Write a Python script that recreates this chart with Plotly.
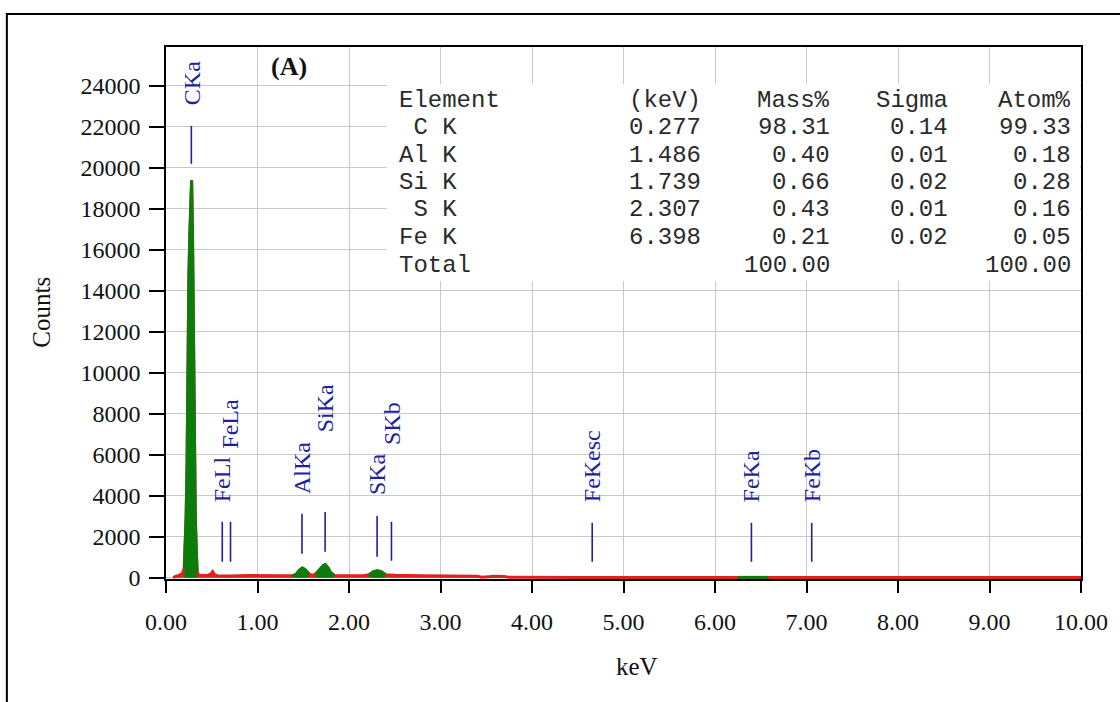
import plotly.graph_objects as go

# ---------------- data ----------------
spec_keV = [0.08, 0.10, 0.14, 0.18, 0.20, 0.21, 0.22, 0.23, 0.24, 0.25, 0.26, 0.27, 0.28,
            0.29, 0.30, 0.31, 0.32, 0.33, 0.34, 0.36, 0.45, 0.49, 0.51, 0.53, 0.56, 0.70,
            0.90, 1.20, 1.38, 1.42, 1.46, 1.49, 1.52, 1.56, 1.60, 1.64, 1.68, 1.72, 1.74,
            1.77, 1.80, 1.84, 1.95, 2.15, 2.22, 2.27, 2.31, 2.35, 2.40, 2.50, 2.80, 3.10,
            3.40, 3.45, 3.60, 3.70, 3.75, 4.50, 6.25, 6.40, 6.58, 8.00, 10.00]
spec_counts = [0, 60, 120, 200, 500, 1500, 3000, 5500, 11500, 14700, 16700, 18800, 19400,
               16700, 11500, 5500, 3000, 1500, 300, 120, 110, 180, 300, 150, 100, 90,
               110, 100, 100, 150, 380, 480, 400, 200, 110, 200, 400, 600, 640,
               480, 250, 110, 100, 100, 150, 300, 340, 300, 150, 120, 100, 90,
               80, 30, 80, 60, 20, 15, 20, 25, 20, 15, 10]
roi_ranges = [(0.20, 0.34), (1.38, 1.58), (1.62, 1.85), (2.21, 2.41), (6.25, 6.58)]

peak_names = ["CKa", "FeLl", "FeLa", "AlKa", "SiKa", "SKa", "SKb", "FeKesc", "FeKa", "FeKb"]
peak_keV = [0.277, 0.615, 0.705, 1.486, 1.739, 2.307, 2.464, 4.658, 6.398, 7.057]
marker_top = [22050, 2730, 2730, 3120, 3210, 3020, 2730, 2680, 2680, 2680]
marker_bottom = [20200, 780, 780, 1170, 1270, 1020, 830, 780, 780, 780]
label_base = [22980, 3600, 6180, 3990, 7010, 3940, 6380, 3600, 3600, 3600]

x_ticks = [0, 1, 2, 3, 4, 5, 6, 7, 8, 9, 10]
x_ticktext = ["0.00", "1.00", "2.00", "3.00", "4.00", "5.00", "6.00", "7.00", "8.00", "9.00", "10.00"]
y_ticks = [0, 2000, 4000, 6000, 8000, 10000, 12000, 14000, 16000, 18000, 20000, 22000, 24000]
y_ticktext = ["0", "2000", "4000", "6000", "8000", "10000", "12000", "14000", "16000",
              "18000", "20000", "22000", "24000"]

tbl_element = ["Element", "\u00a0C K", "Al K", "Si K", "\u00a0S K", "Fe K", "Total"]
tbl_kev = ["(keV)", "0.277", "1.486", "1.739", "2.307", "6.398", ""]
tbl_mass = ["Mass%", "98.31", "0.40", "0.66", "0.43", "0.21", "100.00"]
tbl_sigma = ["Sigma", "0.14", "0.01", "0.02", "0.01", "0.02", ""]
tbl_atom = ["Atom%", "99.33", "0.18", "0.28", "0.16", "0.05", "100.00"]

# ---------------- styling / geometry ----------------
W, H = 1120, 702
L, R, T, B = 166, 34, 47, 123
PW, PH = W - L - R, H - T - B
RED = "#e3201c"
GREEN = "#0c7c0c"
BLUE = "#1f1fa0"
SERIF = "Liberation Serif, Times New Roman, serif"
MONO = "Liberation Mono, Courier New, monospace"


def px(xp):
    return (xp - L) / PW


def py(yp):
    return (H - B - yp) / PH


fig = go.Figure()

# background spectrum (red)
fig.add_trace(go.Scatter(x=spec_keV, y=spec_counts, mode="lines", fill="tozeroy",
                         line=dict(color=RED, width=3), fillcolor=RED,
                         hoverinfo="skip", showlegend=False))

# ROI (green)
for lo, hi in roi_ranges:
    xs = [e for e in spec_keV if lo <= e <= hi]
    ys = [c for e, c in zip(spec_keV, spec_counts) if lo <= e <= hi]
    fig.add_trace(go.Scatter(x=xs, y=ys, mode="lines", fill="tozeroy",
                             line=dict(color=GREEN, width=3), fillcolor=GREEN,
                             hoverinfo="skip", showlegend=False))

shapes = []
annotations = []

# peak markers + labels
for name, e, t, b, lb in zip(peak_names, peak_keV, marker_top, marker_bottom, label_base):
    shapes.append(dict(type="line", xref="x", yref="y", x0=e, x1=e, y0=b, y1=t,
                       line=dict(color=BLUE, width=1.6)))
    annotations.append(dict(x=e, y=lb, xref="x", yref="y", text=name, textangle=-90,
                            showarrow=False, xanchor="center", yanchor="bottom",
                            font=dict(family=SERIF, size=24, color=BLUE)))

# table white background
shapes.append(dict(type="rect", xref="paper", yref="paper", x0=px(388), x1=px(1085),
                   y0=py(281), y1=py(84), fillcolor="white", line=dict(width=0), layer="above"))

# outer frame
shapes.append(dict(type="rect", xref="paper", yref="paper", x0=px(6), x1=px(1130),
                   y0=py(712), y1=py(14), line=dict(color="black", width=2),
                   fillcolor="rgba(0,0,0,0)"))

# table text
row_y = [100 + 27.5 * i for i in range(7)]
cols = [(tbl_element, 398, "left"), (tbl_kev, 706, "right"), (tbl_mass, 836, "right"),
        (tbl_sigma, 954, "right"), (tbl_atom, 1078, "right")]
for col, xpos, anchor in cols:
    for txt, yy in zip(col, row_y):
        if not txt:
            continue
        annotations.append(dict(x=px(xpos), y=py(yy), xref="paper", yref="paper", text=txt,
                                showarrow=False, xanchor=anchor, yanchor="middle",
                                font=dict(family=MONO, size=24, color="#2a2a2a")))

# (A)
annotations.append(dict(x=px(290), y=py(66), xref="paper", yref="paper", text="<b>(A)</b>",
                        showarrow=False, xanchor="center", yanchor="middle",
                        font=dict(family=SERIF, size=26, color="#111111")))

# axis titles
annotations.append(dict(x=px(640), y=py(667), xref="paper", yref="paper", text="keV",
                        showarrow=False, xanchor="center", yanchor="middle",
                        font=dict(family=SERIF, size=25, color="#111111")))
annotations.append(dict(x=px(40), y=py(312), xref="paper", yref="paper", text="Counts",
                        textangle=-90, showarrow=False, xanchor="center", yanchor="middle",
                        font=dict(family=SERIF, size=25, color="#111111")))

fig.update_layout(
    width=W, height=H, autosize=False,
    margin=dict(l=L, r=R, t=T, b=B, pad=0),
    paper_bgcolor="white", plot_bgcolor="white",
    shapes=shapes, annotations=annotations,
    xaxis=dict(range=[0, 10], tickmode="array", tickvals=x_ticks, ticktext=x_ticktext,
               showgrid=True, gridcolor="#c8c8c8", gridwidth=1, zeroline=False,
               showline=True, linecolor="black", linewidth=1.5, mirror=True,
               ticks="outside", ticklen=12, tickwidth=1.5, tickcolor="black",
               ticklabelstandoff=8,
               tickfont=dict(family=SERIF, size=24, color="#111111")),
    yaxis=dict(range=[-60, 25900], tickmode="array", tickvals=y_ticks, ticktext=y_ticktext,
               showgrid=True, gridcolor="#c8c8c8", gridwidth=1, zeroline=False,
               showline=True, linecolor="black", linewidth=1.5, mirror=True,
               ticks="outside", ticklen=15, tickwidth=1.5, tickcolor="black",
               ticklabelstandoff=4,
               tickfont=dict(family=SERIF, size=24, color="#111111")),
)

fig.write_html("out.html")
